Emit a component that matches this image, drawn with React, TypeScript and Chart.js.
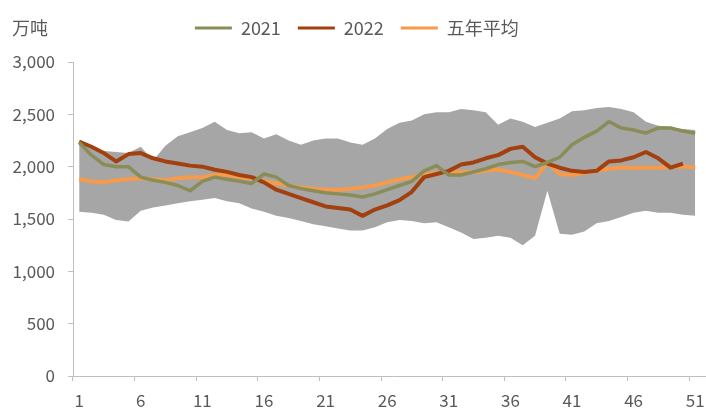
import React, { useEffect, useRef } from 'react';
import { Chart, registerables } from 'chart.js';

Chart.register(...registerables);

const weekLabels = [
  '1', '2', '3', '4', '5', '6', '7', '8', '9', '10',
  '11', '12', '13', '14', '15', '16', '17', '18', '19', '20',
  '21', '22', '23', '24', '25', '26', '27', '28', '29', '30',
  '31', '32', '33', '34', '35', '36', '37', '38', '39', '40',
  '41', '42', '43', '44', '45', '46', '47', '48', '49', '50',
  '51', '52',
];

const seriesNames = ['2021', '2022', '五年平均'];
const unitLabel = '万吨';

const y2021 = [
  2230, 2110, 2020, 2000, 2000, 1900, 1870, 1850, 1820, 1770,
  1860, 1900, 1880, 1860, 1840, 1930, 1900, 1820, 1790, 1770,
  1750, 1740, 1730, 1710, 1740, 1780, 1820, 1860, 1960, 2010,
  1920, 1920, 1950, 1980, 2020, 2040, 2050, 2000, 2040, 2090,
  2210, 2280, 2340, 2430, 2370, 2350, 2320, 2370, 2370, 2340,
  2320,
];

const y2022 = [
  2240, 2190, 2130, 2050, 2120, 2130, 2080, 2050, 2030, 2010,
  2000, 1970, 1950, 1920, 1900, 1850, 1780, 1740, 1700, 1660,
  1620, 1605, 1590, 1530, 1590, 1630, 1680, 1760, 1900, 1930,
  1960, 2020, 2040, 2080, 2110, 2170, 2190, 2090, 2030, 1990,
  1960, 1950, 1960, 2050, 2060, 2090, 2140, 2080, 1990, 2030,
  null,
];

const fiveYearAvg = [
  1880, 1860, 1850, 1870, 1880, 1890, 1880, 1870, 1890, 1900,
  1900, 1920, 1920, 1900, 1890, 1860, 1840, 1820, 1800, 1790,
  1780, 1780, 1790, 1800, 1820, 1850, 1880, 1900, 1920, 1940,
  1950, 1950, 1950, 1960, 1970, 1950, 1920, 1890, 2040, 1930,
  1920, 1940, 1960, 1980, 1990, 1990, 1990, 1990, 2000, 2000,
  1995,
];

const rangeMax = [
  2240, 2180, 2150, 2140, 2130, 2190, 2060, 2200, 2290, 2330,
  2370, 2430, 2350, 2320, 2330, 2270, 2310, 2250, 2210, 2250,
  2270, 2270, 2230, 2210, 2270, 2360, 2420, 2440, 2500, 2520,
  2520, 2550, 2540, 2520, 2400, 2460, 2430, 2380, 2420, 2460,
  2530, 2540, 2560, 2570, 2550, 2520, 2430, 2390, 2380, 2360,
  2350,
];

const rangeMin = [
  1570, 1560, 1540, 1490, 1475, 1580, 1610, 1630, 1650, 1670,
  1685, 1700, 1670, 1650, 1600, 1570, 1530, 1510, 1480, 1450,
  1430, 1410, 1390, 1390, 1420, 1470, 1490, 1480, 1460, 1470,
  1420, 1370, 1310, 1320, 1340, 1320, 1250, 1340, 1770, 1360,
  1350, 1380, 1460, 1480, 1520, 1560, 1580, 1560, 1560, 1540,
  1530,
];

const colors = {
  c2021: '#8A8D57',
  c2022: '#A3400F',
  avg: '#F79A4A',
  band: '#A6A6A6',
  axis: '#BFBFBF',
  text: '#595959',
};

const FONT = '"Noto Sans CJK SC", "Noto Sans", sans-serif';

export default function App() {
  const ref = useRef<HTMLCanvasElement>(null);

  useEffect(() => {
    if (!ref.current) return;

    const legendSpace = {
      id: 'legendSpace',
      beforeLayout(chart: any) {
        const lg = chart.legend;
        if (lg && !lg.__patched) {
          const orig = lg.fit;
          lg.fit = function () {
            orig.call(this);
            this.height += 15;
          };
          lg.__patched = true;
        }
      },
    };

    const unitText = {
      id: 'unitText',
      afterDraw(chart: any) {
        const c = chart.ctx;
        c.save();
        c.font = `18px ${FONT}`;
        c.fillStyle = colors.text;
        c.textBaseline = 'middle';
        c.textAlign = 'left';
        c.fillText(unitLabel, 12, 28);
        c.restore();
      },
    };

    const chart = new Chart(ref.current, {
      type: 'line',
      data: {
        labels: weekLabels,
        datasets: [
          {
            label: seriesNames[0],
            data: y2021,
            borderColor: colors.c2021,
            backgroundColor: colors.c2021,
            borderWidth: 3.5,
            pointRadius: 0,
            tension: 0,
            fill: false,
            order: 0,
            borderJoinStyle: 'round',
          },
          {
            label: seriesNames[1],
            data: y2022,
            borderColor: colors.c2022,
            backgroundColor: colors.c2022,
            borderWidth: 4,
            pointRadius: 0,
            tension: 0,
            fill: false,
            order: 0,
            borderJoinStyle: 'round',
          },
          {
            label: seriesNames[2],
            data: fiveYearAvg,
            borderColor: colors.avg,
            backgroundColor: colors.avg,
            borderWidth: 4,
            pointRadius: 0,
            tension: 0,
            fill: false,
            order: 0,
            borderJoinStyle: 'round',
          },
          {
            label: 'min',
            data: rangeMin,
            borderColor: 'rgba(0,0,0,0)',
            backgroundColor: 'rgba(0,0,0,0)',
            borderWidth: 0,
            pointRadius: 0,
            tension: 0,
            fill: false,
            order: 10,
          },
          {
            label: 'max',
            data: rangeMax,
            borderColor: colors.band,
            backgroundColor: colors.band,
            borderWidth: 0,
            pointRadius: 0,
            tension: 0,
            fill: 3,
            order: 10,
          },
        ],
      },
      options: {
        responsive: false,
        animation: false,
        layout: { padding: { top: 2, left: 0, right: 6.3, bottom: 0 } },
        plugins: {
          tooltip: { enabled: false },
          legend: {
            display: true,
            position: 'top',
            align: 'center',
            labels: {
              color: colors.text,
              font: { family: FONT, size: 18 },
              boxWidth: 37,
              boxHeight: 3,
              padding: 17,
              generateLabels: (ch: any) =>
                ch.data.datasets.slice(0, 3).map((ds: any, i: number) => ({
                  text: ds.label,
                  fillStyle: ds.borderColor,
                  strokeStyle: ds.borderColor,
                  lineWidth: 0,
                  hidden: false,
                  datasetIndex: i,
                  fontColor: colors.text,
                })),
            },
          },
        },
        scales: {
          x: {
            type: 'category',
            offset: true,
            border: { display: true, color: colors.axis, width: 1 },
            grid: {
              offset: true,
              drawOnChartArea: false,
              drawTicks: true,
              tickLength: 5,
              color: (ctx: any) => (ctx.index % 5 === 0 ? colors.axis : 'rgba(0,0,0,0)'),
            },
            ticks: {
              autoSkip: false,
              maxRotation: 0,
              minRotation: 0,
              padding: 9,
              color: colors.text,
              font: { family: FONT, size: 17 },
              callback: (_v: any, i: number) => (i % 5 === 0 ? weekLabels[i] : ''),
            },
            afterFit: (scale: any) => {
              scale.height = 36;
            },
          },
          y: {
            min: 0,
            max: 3000,
            border: { display: true, color: colors.axis, width: 1 },
            grid: {
              drawOnChartArea: false,
              drawTicks: true,
              tickLength: 5,
              color: colors.axis,
            },
            ticks: {
              stepSize: 500,
              padding: 13,
              color: colors.text,
              font: { family: FONT, size: 17 },
              callback: (v: any) => Number(v).toLocaleString('en-US'),
            },
            afterFit: (scale: any) => {
              scale.width = 73;
            },
          },
        },
      },
      plugins: [legendSpace, unitText],
    });

    return () => chart.destroy();
  }, []);

  return (
    <div
      style={{
        position: 'fixed',
        left: 0,
        top: 0,
        width: 706,
        height: 412,
        overflow: 'hidden',
        background: '#ffffff',
      }}
    >
      <canvas ref={ref} width={720} height={412} style={{ display: 'block' }} />
    </div>
  );
}
